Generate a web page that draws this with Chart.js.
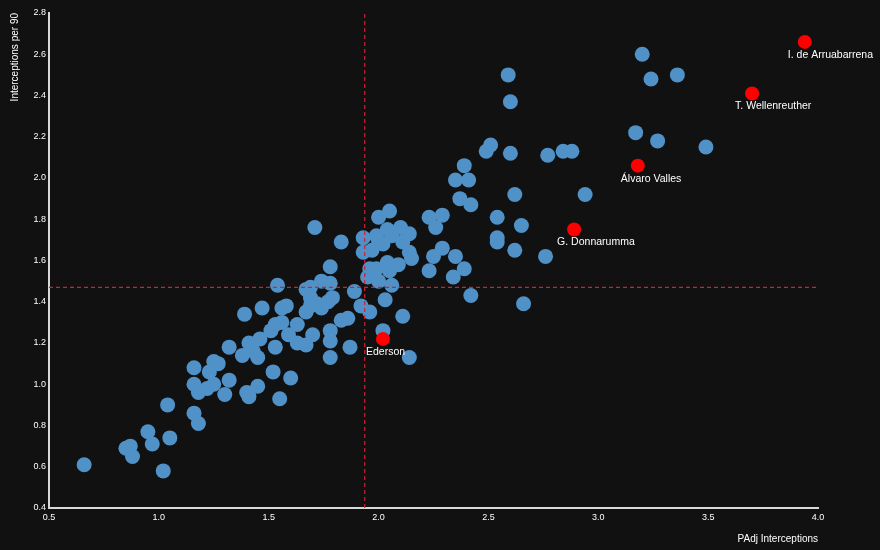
<!DOCTYPE html>
<html>
<head>
<meta charset="utf-8">
<script src="https://cdn.jsdelivr.net/npm/chart.js@4.4.1/dist/chart.umd.min.js"></script>
<style>
  html, body { margin: 0; padding: 0; background: #111111; }
  #wrap { width: 880px; height: 550px; }
</style>
</head>
<body>
<div id="wrap"><canvas id="scatterChart" width="880" height="550"></canvas></div>
<script>
// Goalkeepers: PAdj interceptions vs interceptions per 90
const otherX = [0.66, 0.85, 0.87, 0.88, 0.95, 0.97, 1.05, 1.02, 1.04, 1.16, 1.18, 1.16, 1.16, 1.18, 1.22, 1.25, 1.23, 1.25, 1.27, 1.30,
  1.32, 1.32, 1.39, 1.38, 1.41, 1.43, 1.45, 1.40, 1.41, 1.45, 1.46, 1.47, 1.52, 1.53, 1.55, 1.60, 1.51, 1.53, 1.56, 1.59,
  1.63, 1.63, 1.67, 1.70, 1.54, 1.56, 1.58, 1.67, 1.69, 1.72, 1.77, 1.79, 1.69, 1.67, 1.69, 1.74, 1.78, 1.74, 1.83, 1.86,
  1.87, 1.78, 1.78, 1.78, 1.71, 1.78, 1.83, 1.89, 1.92, 1.96, 2.03, 2.11, 2.02, 2.14, 2.06, 2.00, 1.95, 1.96, 1.99, 2.04,
  2.05, 2.09, 2.15, 2.14, 2.11, 2.14, 2.10, 2.06, 2.04, 2.02, 1.97, 2.00, 1.99, 1.93, 1.93, 2.00, 2.05, 2.23, 2.26, 2.29,
  2.25, 2.29, 2.35, 2.39, 2.23, 2.34, 2.42, 2.35, 2.41, 2.39, 2.37, 2.42, 2.49, 2.51, 2.54, 2.54, 2.54, 2.59, 2.60, 2.60,
  2.62, 2.65, 2.62, 2.66, 2.76, 2.77, 2.84, 2.88, 2.94, 3.17, 3.20, 3.24, 3.36, 3.27, 3.49];
const otherY = [0.61, 0.69, 0.70, 0.65, 0.77, 0.71, 0.74, 0.58, 0.90, 0.86, 0.81, 1.08, 1.00, 0.96, 0.98, 1.00, 1.06, 1.11, 1.10, 0.95,
  1.02, 1.18, 1.34, 1.14, 1.20, 1.16, 1.13, 0.96, 0.94, 0.99, 1.22, 1.37, 1.06, 1.18, 0.93, 1.03, 1.26, 1.29, 1.30, 1.24,
  1.29, 1.20, 1.19, 1.24, 1.48, 1.37, 1.38, 1.35, 1.38, 1.39, 1.40, 1.42, 1.42, 1.46, 1.47, 1.50, 1.49, 1.37, 1.31, 1.32,
  1.18, 1.26, 1.21, 1.13, 1.76, 1.57, 1.69, 1.45, 1.38, 1.35, 1.41, 1.33, 1.26, 1.13, 1.48, 1.50, 1.52, 1.56, 1.56, 1.59,
  1.55, 1.58, 1.61, 1.64, 1.69, 1.73, 1.76, 1.72, 1.75, 1.68, 1.65, 1.69, 1.72, 1.71, 1.64, 1.81, 1.84, 1.81, 1.76, 1.82,
  1.62, 1.66, 1.62, 1.56, 1.55, 1.52, 1.43, 1.99, 1.99, 2.06, 1.90, 1.87, 2.13, 2.16, 1.81, 1.71, 1.69, 2.50, 2.37, 2.12,
  1.92, 1.77, 1.65, 1.39, 1.62, 2.11, 2.13, 2.13, 1.92, 2.22, 2.60, 2.48, 2.50, 2.18, 2.15];

const highlightNames = ['I. de Arruabarrena', 'T. Wellenreuther', 'Álvaro Valles', 'G. Donnarumma', 'Ederson'];
const highlightX = [3.94, 3.70, 3.18, 2.89, 2.02];
const highlightY = [2.66, 2.41, 2.06, 1.75, 1.22];

// league averages (dashed reference lines)
const avgX = 1.937;
const avgY = 1.47;

const xTickValues = [0.5, 1.0, 1.5, 2.0, 2.5, 3.0, 3.5, 4.0];
const yTickValues = [0.4, 0.6, 0.8, 1.0, 1.2, 1.4, 1.6, 1.8, 2.0, 2.2, 2.4, 2.6, 2.8];

const xTitle = 'PAdj Interceptions';
const yTitle = 'Interceptions per 90';

const BLUE = 'rgb(80, 146, 200)';
const RED = '#ff0000';
const AVG_RED = 'rgb(208, 32, 50)';
const FONT = '"Liberation Sans", Arial, sans-serif';

const toPoints = (xs, ys) => xs.map((x, i) => ({ x: x, y: ys[i] }));

// draws background, axis titles and player labels
const decorPlugin = {
    id: 'decor',
    beforeDraw(chart) {
        const ctx = chart.ctx;
        ctx.save();
        ctx.fillStyle = '#111111';
        ctx.fillRect(0, 0, chart.width, chart.height);
        ctx.restore();
    },
    afterDatasetsDraw(chart) {
        const ctx = chart.ctx;
        const area = chart.chartArea;
        ctx.save();
        ctx.fillStyle = '#ffffff';

        // player labels
        ctx.font = '10.5px ' + FONT;
        ctx.textAlign = 'left';
        ctx.textBaseline = 'middle';
        const meta = chart.getDatasetMeta(1);
        meta.data.forEach((pt, i) => {
            ctx.fillText(highlightNames[i], pt.x - 17, pt.y + 13);
        });

        // axis titles
        ctx.font = '10px ' + FONT;
        ctx.textAlign = 'right';
        ctx.textBaseline = 'middle';
        ctx.fillText(xTitle, area.right, 539);

        ctx.translate(15, area.top);
        ctx.rotate(-Math.PI / 2);
        ctx.textAlign = 'right';
        ctx.fillText(yTitle, 0, 0);
        ctx.restore();
    }
};

const config = {
    type: 'scatter',
    data: {
        datasets: [
            {
                label: 'Goalkeepers',
                data: toPoints(otherX, otherY),
                backgroundColor: BLUE,
                borderWidth: 0,
                pointRadius: 7.5,
                pointHoverRadius: 7.5,
                order: 3
            },
            {
                label: 'Highlighted',
                data: toPoints(highlightX, highlightY),
                backgroundColor: RED,
                borderWidth: 0,
                pointRadius: 7,
                pointHoverRadius: 7,
                order: 1
            },
            {
                type: 'line',
                label: 'avgX',
                data: [{ x: avgX, y: 0.4 }, { x: avgX, y: 2.8 }],
                borderColor: AVG_RED,
                borderWidth: 1.2,
                borderDash: [4, 3],
                pointRadius: 0,
                fill: false,
                order: 2
            },
            {
                type: 'line',
                label: 'avgY',
                data: [{ x: 0.5, y: avgY }, { x: 4.0, y: avgY }],
                borderColor: AVG_RED,
                borderWidth: 1.2,
                borderDash: [4, 3],
                pointRadius: 0,
                fill: false,
                order: 2
            }
        ]
    },
    options: {
        responsive: false,
        animation: false,
        layout: { padding: { left: 0, right: 62, top: 13, bottom: 0 } },
        plugins: {
            legend: { display: false },
            tooltip: { enabled: false }
        },
        scales: {
            x: {
                type: 'linear',
                min: 0.5,
                max: 4.0,
                grid: { display: false, drawTicks: false },
                border: { display: true, color: '#d8d8d8', width: 2 },
                afterBuildTicks: (axis) => { axis.ticks = xTickValues.map(v => ({ value: v })); },
                afterFit: (axis) => { axis.height = 42; },
                ticks: {
                    color: '#ffffff',
                    padding: 4,
                    maxRotation: 0,
                    font: { family: FONT, size: 9 },
                    callback: (v) => Number(v).toFixed(1)
                }
            },
            y: {
                type: 'linear',
                min: 0.4,
                max: 2.8,
                grid: { display: false, drawTicks: false },
                border: { display: true, color: '#d8d8d8', width: 2 },
                afterBuildTicks: (axis) => { axis.ticks = yTickValues.map(v => ({ value: v })); },
                afterFit: (axis) => { axis.width = 49; },
                ticks: {
                    color: '#ffffff',
                    padding: 3,
                    font: { family: FONT, size: 9 },
                    callback: (v) => Number(v).toFixed(1)
                }
            }
        }
    },
    plugins: [decorPlugin]
};

new Chart(document.getElementById('scatterChart'), config);
</script>
</body>
</html>
